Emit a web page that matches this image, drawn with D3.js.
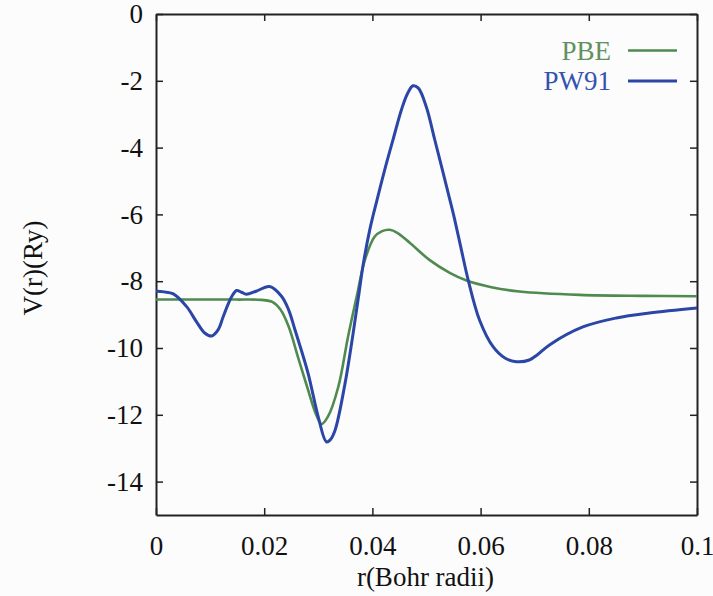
<!DOCTYPE html>
<html>
<head>
<meta charset="utf-8">
<script src="https://cdn.jsdelivr.net/npm/d3@7/dist/d3.min.js"></script>
<style>
  html, body { margin: 0; padding: 0; background: #fcfcfc; }
  svg { display: block; }
  svg text { font-family: "Liberation Serif", "Times New Roman", Tinos, "Noto Serif", "DejaVu Serif", serif; }
</style>
</head>
<body>
<svg id="chart" width="713" height="596"></svg>
<script>
// ---- data ----
const seriesNames = ["PBE", "PW91"];
const pbeR = [0, 0.005, 0.01, 0.015, 0.0195, 0.0215, 0.023, 0.0245, 0.0263, 0.0281, 0.0295, 0.0306, 0.0318, 0.0337, 0.0355, 0.0371, 0.0386, 0.0404, 0.0418, 0.0432, 0.0446, 0.0469, 0.0506, 0.0543, 0.0574, 0.062, 0.0672, 0.0783, 0.09, 0.1];
const pbeV = [-8.55, -8.55, -8.55, -8.55, -8.56, -8.62, -8.85, -9.35, -10.3, -11.25, -11.95, -12.28, -12.05, -11.16, -9.66, -8.46, -7.37, -6.67, -6.5, -6.46, -6.55, -6.85, -7.37, -7.75, -7.98, -8.18, -8.31, -8.41, -8.44, -8.45];
const pw91R = [0, 0.0015, 0.0032, 0.0057, 0.0075, 0.009, 0.0103, 0.0115, 0.0124, 0.0133, 0.014, 0.0149, 0.0158, 0.0167, 0.0185, 0.021, 0.0232, 0.0245, 0.0257, 0.0281, 0.030, 0.0315, 0.0322, 0.0331, 0.0349, 0.0364, 0.0374, 0.0383, 0.0395, 0.0408, 0.0423, 0.0438, 0.0454, 0.0465, 0.0475, 0.0485, 0.050, 0.0515, 0.0531, 0.0543, 0.0552, 0.0565, 0.0577, 0.0598, 0.0623, 0.0645, 0.0666, 0.069, 0.0705, 0.0728, 0.0789, 0.0851, 0.0912, 0.1];
const pw91V = [-8.3, -8.32, -8.38, -8.77, -9.22, -9.55, -9.64, -9.45, -9.07, -8.7, -8.46, -8.28, -8.33, -8.39, -8.3, -8.16, -8.45, -8.85, -9.46, -10.75, -12.07, -12.81, -12.75, -12.46, -11.1, -9.6, -8.5, -7.5, -6.47, -5.6, -4.65, -3.77, -2.85, -2.38, -2.15, -2.22, -2.8, -3.75, -4.77, -5.55, -6.15, -7.1, -7.96, -9.16, -9.96, -10.3, -10.41, -10.36, -10.2, -9.9, -9.37, -9.1, -8.95, -8.8];
const xTicks = [0, 0.02, 0.04, 0.06, 0.08, 0.1];
const xTickLabels = ["0", "0.02", "0.04", "0.06", "0.08", "0.1"];
const yTicks = [0, -2, -4, -6, -8, -10, -12, -14];
const yTickLabels = ["0", "-2", "-4", "-6", "-8", "-10", "-12", "-14"];

// ---- layout ----
const L = 156, R = 697, T = 14, B = 515;
const colors = { PBE: "#4f8a4f", PW91: "#2b46a6" };
const textColors = { PBE: "#5f925f", PW91: "#3552b0" };
const axisColor = "#222";

const svg = d3.select("#chart");
const x = d3.scaleLinear().domain([0, 0.1]).range([L, R]);
const y = d3.scaleLinear().domain([-15, 0]).range([B, T]);

function styleAxis(g) {
  g.select(".domain").attr("stroke", axisColor).attr("stroke-width", 2);
  g.selectAll(".tick line").attr("stroke", axisColor).attr("stroke-width", 1.5);
  g.selectAll(".tick text").attr("fill", "#111").attr("font-size", 27);
}

svg.append("g").attr("transform", `translate(0,${B})`)
  .call(d3.axisBottom(x).tickValues(xTicks).tickSizeInner(-7).tickSizeOuter(0).tickPadding(21)
    .tickFormat((d, i) => xTickLabels[i]))
  .call(styleAxis);
svg.append("g").attr("transform", `translate(0,${T})`)
  .call(d3.axisTop(x).tickValues(xTicks).tickSizeInner(-7).tickSizeOuter(0).tickFormat(""))
  .call(styleAxis);
svg.append("g").attr("transform", `translate(${L},0)`)
  .call(d3.axisLeft(y).tickValues(yTicks).tickSizeInner(-7).tickSizeOuter(0).tickPadding(13)
    .tickFormat((d, i) => yTickLabels[i]))
  .call(styleAxis);
svg.append("g").attr("transform", `translate(${R},0)`)
  .call(d3.axisRight(y).tickValues(yTicks).tickSizeInner(-7).tickSizeOuter(0).tickFormat(""))
  .call(styleAxis);
svg.selectAll("g").attr("font-family", null);

const line = d3.line().x(d => x(d[0])).y(d => y(d[1])).curve(d3.curveCatmullRom.alpha(0.5));
const series = [
  { name: "PBE", pts: d3.zip(pbeR, pbeV), width: 2.6 },
  { name: "PW91", pts: d3.zip(pw91R, pw91V), width: 3 }
];
series.forEach(s => {
  svg.append("path").datum(s.pts)
    .attr("fill", "none").attr("stroke", colors[s.name])
    .attr("stroke-width", s.width).attr("stroke-linejoin", "round")
    .attr("d", line);
});

const legY = [50.5, 81];
series.forEach((s, i) => {
  svg.append("text").attr("x", 611).attr("y", legY[i]).attr("dy", "0.35em")
    .attr("text-anchor", "end").attr("font-size", 27).attr("fill", textColors[s.name])
    .text(seriesNames[i]);
  svg.append("line").attr("x1", 628).attr("x2", 677).attr("y1", legY[i]).attr("y2", legY[i])
    .attr("stroke", colors[s.name]).attr("stroke-width", s.width);
});

svg.append("text").attr("x", (L + R) / 2 - 1).attr("y", 586).attr("text-anchor", "middle")
  .attr("font-size", 27).attr("fill", "#111").text("r(Bohr radii)");
svg.append("text").attr("transform", "translate(42,268) rotate(-90)").attr("text-anchor", "middle")
  .attr("font-size", 27).attr("fill", "#111").text("V(r)(Ry)");
</script>
</body>
</html>
